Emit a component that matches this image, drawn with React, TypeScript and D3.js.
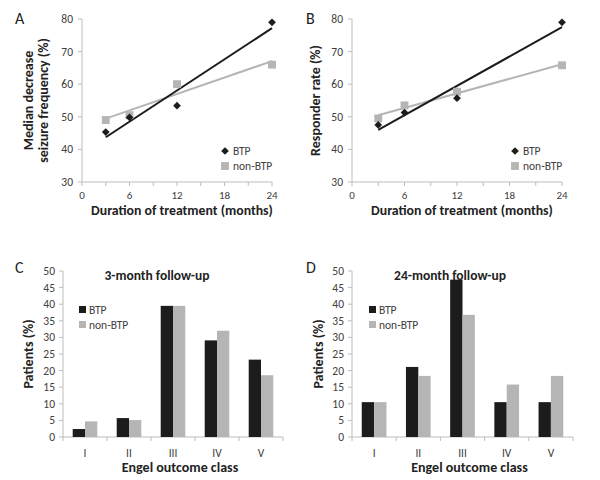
import React from 'react';
import * as d3 from 'd3';

// ---------- data ----------
const months = [3, 6, 12, 24];
const monthTicks = [0, 6, 12, 18, 24];
const monthMinorTicks = [0, 3, 6, 9, 12, 15, 18, 21, 24];
const pctTicks = [30, 40, 50, 60, 70, 80];

const aBTP = [45.3, 49.8, 53.4, 79];
const aNonBTP = [49, 50.5, 60, 66];
const bBTP = [47.5, 51.3, 55.7, 79];
const bNonBTP = [49.5, 53.5, 57.7, 65.8];

const engelClasses = ['I', 'II', 'III', 'IV', 'V'];
const patientTicks = [0, 5, 10, 15, 20, 25, 30, 35, 40, 45, 50];
const cBTP = [2.4, 5.7, 39.5, 29.1, 23.3];
const cNonBTP = [4.7, 5.1, 39.5, 32, 18.6];
const dBTP = [10.5, 21.1, 47.4, 10.5, 10.5];
const dNonBTP = [10.5, 18.4, 36.8, 15.8, 18.4];

const seriesNames = ['BTP', 'non-BTP'];

// ---------- style ----------
const FONT = "Carlito, Calibri, Lato, 'Open Sans', sans-serif";
const DARK = '#1c1c1c';
const GRAY = '#b5b5b5';
const AXIS = '#bdbdbd';
const TICKTXT = '#404040';

function fit(xs: number[], ys: number[]) {
  const mx = d3.mean(xs)!;
  const my = d3.mean(ys)!;
  const sxy = d3.sum(xs.map((x, i) => (x - mx) * (ys[i] - my)));
  const sxx = d3.sum(xs.map((x) => (x - mx) * (x - mx)));
  const slope = sxy / sxx;
  return (x: number) => my + slope * (x - mx);
}

type LineProps = {
  left: number; right: number; top: number; bottom: number;
  btp: number[]; non: number[]; yTitle: string[]; letter: string; letterX: number;
  yTitleX: number;
};

function LinePanel(p: LineProps) {
  const x = d3.scaleLinear().domain([0, 24]).range([p.left, p.right]);
  const y = d3.scaleLinear().domain([30, 80]).range([p.bottom, p.top]);
  const fb = fit(months, p.btp);
  const fn = fit(months, p.non);
  const line = d3.line<number[]>().x((d) => x(d[0])).y((d) => y(d[1]));
  const diamond = d3.symbol().type(d3.symbolSquare).size(30)()!;
  const square = d3.symbol().type(d3.symbolSquare).size(62)()!;
  const midY = (p.top + p.bottom) / 2;
  const lx = p.right - 47;
  return (
    <g fontFamily={FONT}>
      <text x={p.letterX} y={24} fontSize={16} fill="#222">{p.letter}</text>
      {/* axes */}
      <line x1={p.left} x2={p.left} y1={p.top} y2={p.bottom} stroke={AXIS} />
      <line x1={p.left} x2={p.right} y1={p.bottom} y2={p.bottom} stroke={AXIS} />
      {pctTicks.map((t) => (
        <g key={t}>
          <line x1={p.left - 4} x2={p.left} y1={y(t)} y2={y(t)} stroke={AXIS} />
          <text x={p.left - 9} y={y(t)} dy="0.35em" textAnchor="end" fontSize={11.5} fill={TICKTXT}>{t}</text>
        </g>
      ))}
      {monthMinorTicks.map((t) => (
        <line key={t} x1={x(t)} x2={x(t)} y1={p.bottom} y2={p.bottom + 4} stroke={AXIS} />
      ))}
      {monthTicks.map((t) => (
        <text key={t} x={x(t)} y={p.bottom + 17} textAnchor="middle" fontSize={11} fill={TICKTXT}>{t}</text>
      ))}
      {/* trend lines */}
      <path d={line([[3, fn(3)], [24, fn(24)]])!} stroke={GRAY} strokeWidth={2} fill="none" />
      <path d={line([[3, fb(3)], [24, fb(24)]])!} stroke={DARK} strokeWidth={2} fill="none" />
      {/* markers */}
      {months.map((m, i) => (
        <path key={'n' + i} d={square} transform={`translate(${x(m)},${y(p.non[i])})`} fill={GRAY} />
      ))}
      {months.map((m, i) => (
        <path key={'b' + i} d={diamond} transform={`translate(${x(m)},${y(p.btp[i])}) rotate(45)`} fill={DARK} />
      ))}
      {/* legend */}
      <path d={diamond} transform={`translate(${lx},${151}) rotate(45)`} fill={DARK} />
      <text x={lx + 8} y={151} dy="0.35em" fontSize={11.5} fill={TICKTXT}>{seriesNames[0]}</text>
      <path d={square} transform={`translate(${lx},${166})`} fill={GRAY} />
      <text x={lx + 8} y={166} dy="0.35em" fontSize={11.5} fill={TICKTXT}>{seriesNames[1]}</text>
      {/* titles */}
      <text x={(p.left + p.right) / 2 + 5} y={p.bottom + 33} textAnchor="middle" fontSize={13.8} fontWeight="bold" fill="#222">
        Duration of treatment (months)
      </text>
      <text transform={`translate(${p.yTitleX},${midY}) rotate(-90)`} textAnchor="middle" fontSize={14} fontWeight="bold" fill="#222">
        {p.yTitle.map((s, i) => (
          <tspan key={i} x={0} dy={i === 0 ? 0 : 15}>{s}</tspan>
        ))}
      </text>
    </g>
  );
}

type BarProps = {
  left: number; right: number; top: number; bottom: number;
  btp: number[]; non: number[]; title: string; titleX: number; letter: string; letterX: number;
  yTitleX: number; legendX: number;
};

function BarPanel(p: BarProps) {
  const x = d3.scaleBand<string>().domain(engelClasses).range([p.left, p.right]).padding(0);
  const xs = d3.scaleBand<string>().domain(seriesNames).range([0, x.bandwidth()]).paddingInner(0).paddingOuter(0.79);
  const y = d3.scaleLinear().domain([0, 50]).range([p.bottom, p.top]);
  const boundaries = engelClasses.map((c) => x(c)!).concat([p.right]);
  return (
    <g fontFamily={FONT}>
      <text x={p.letterX} y={p.top + 2} fontSize={16} fill="#222">{p.letter}</text>
      <line x1={p.left} x2={p.left} y1={p.top} y2={p.bottom} stroke={AXIS} />
      <line x1={p.left} x2={p.right} y1={p.bottom} y2={p.bottom} stroke={AXIS} />
      {patientTicks.map((t) => (
        <g key={t}>
          <line x1={p.left - 4} x2={p.left} y1={y(t)} y2={y(t)} stroke={AXIS} />
          <text x={p.left - 8} y={y(t)} dy="0.35em" textAnchor="end" fontSize={11.5} fill={TICKTXT}>{t}</text>
        </g>
      ))}
      {boundaries.map((b, i) => (
        <line key={i} x1={b} x2={b} y1={p.bottom} y2={p.bottom + 4} stroke={AXIS} />
      ))}
      {engelClasses.map((c, i) => (
        <g key={c}>
          <rect x={x(c)! + xs('BTP')!} y={y(p.btp[i])} width={xs.bandwidth()} height={p.bottom - y(p.btp[i])} fill={DARK} />
          <rect x={x(c)! + xs('non-BTP')!} y={y(p.non[i])} width={xs.bandwidth()} height={p.bottom - y(p.non[i])} fill={GRAY} />
          <text x={x(c)! + x.bandwidth() / 2} y={p.bottom + 20} textAnchor="middle" fontSize={11.5} fill={TICKTXT}>{c}</text>
        </g>
      ))}
      {/* legend */}
      <rect x={p.legendX} y={306} width={7} height={7} fill={DARK} />
      <text x={p.legendX + 10} y={310} dy="0.35em" fontSize={11.5} fill={TICKTXT}>{seriesNames[0]}</text>
      <rect x={p.legendX} y={321} width={7} height={7} fill={GRAY} />
      <text x={p.legendX + 10} y={325} dy="0.35em" fontSize={11.5} fill={TICKTXT}>{seriesNames[1]}</text>
      {/* titles */}
      <text x={p.titleX} y={p.top + 9} textAnchor="middle" fontSize={13.5} fontWeight="bold" fill="#222">{p.title}</text>
      <text x={(p.left + p.right) / 2 + 7} y={p.bottom + 35} textAnchor="middle" fontSize={14} fontWeight="bold" fill="#222">
        Engel outcome class
      </text>
      <text transform={`translate(${p.yTitleX},${(p.top + p.bottom) / 2}) rotate(-90)`} textAnchor="middle" fontSize={14} fontWeight="bold" fill="#222">
        Patients (%)
      </text>
    </g>
  );
}

export default function App() {
  return (
    <svg width={600} height={480} style={{ position: 'absolute', left: 0, top: 0, background: '#fff' }}>
      <rect width={600} height={480} fill="#fff" />
      <LinePanel left={82} right={272} top={19} bottom={182} btp={aBTP} non={aNonBTP}
        yTitle={['Median decrease', 'seizure frequency (%)']} yTitleX={33} letter="A" letterX={15} />
      <LinePanel left={352} right={562} top={19} bottom={182} btp={bBTP} non={bNonBTP}
        yTitle={['Responder rate (%)']} yTitleX={320} letter="B" letterX={306} />
      <BarPanel left={63} right={283} top={271} bottom={437} btp={cBTP} non={cNonBTP}
        title="3-month follow-up" titleX={157} letter="C" letterX={15} yTitleX={33} legendX={79} />
      <BarPanel left={352} right={573} top={271} bottom={437} btp={dBTP} non={dNonBTP}
        title="24-month follow-up" titleX={450} letter="D" letterX={306} yTitleX={323} legendX={369} />
    </svg>
  );
}
